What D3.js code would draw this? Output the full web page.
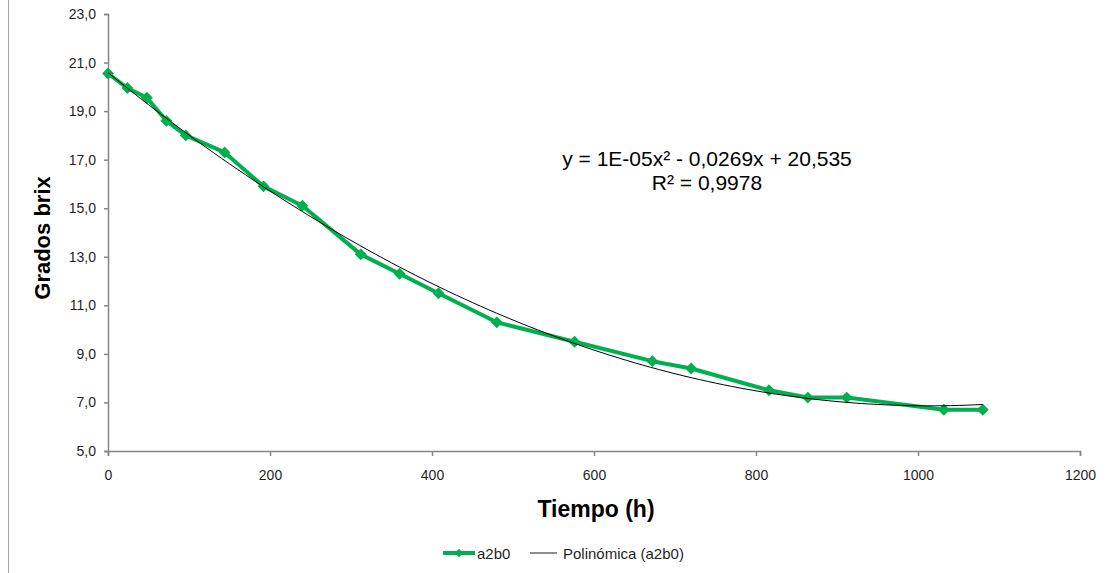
<!DOCTYPE html>
<html>
<head>
<meta charset="utf-8">
<script src="https://cdn.jsdelivr.net/npm/d3@7"></script>
<style>
  html, body { margin: 0; padding: 0; background: #fff; }
  svg { display: block; font-family: "Liberation Sans", Arial, sans-serif; }
</style>
</head>
<body>
<svg id="chart" width="1117" height="573"></svg>
<script>
// Grados brix measured over time (hours)
const tiempo = [0, 24, 48, 72, 96, 144, 192, 240, 312, 360, 408, 480, 576, 672, 720, 816, 864, 912, 1032, 1080];
const brix   = [20.55, 19.95, 19.55, 18.6, 18.0, 17.3, 15.9, 15.1, 13.1, 12.3, 11.5, 10.3, 9.5, 8.7, 8.4, 7.5, 7.2, 7.2, 6.7, 6.7];

const xTicks = [0, 200, 400, 600, 800, 1000, 1200];
const yTicks = [5, 7, 9, 11, 13, 15, 17, 19, 21, 23];

const seriesName = "a2b0";
const trendName = "Polinómica (a2b0)";
const equationLines = ["y = 1E-05x\u00B2 - 0,0269x + 20,535", "R\u00B2 = 0,9978"];

const svg = d3.select("#chart");
const plotLeft = 108, plotRight = 1080, plotTop = 14, plotBottom = 451;

const x = d3.scaleLinear().domain([0, 1200]).range([plotLeft, plotRight]);
const y = d3.scaleLinear().domain([5, 23]).range([plotBottom, plotTop]);

const green = "#00b050";
const axisColor = "#868686";
const textColor = "#1f1f1f";

// outer frame edge on the left
svg.append("line").attr("x1", 8.5).attr("x2", 8.5).attr("y1", 0).attr("y2", 573)
  .attr("stroke", "#a6a6a6").attr("stroke-width", 1);

// Axes
const fmt = d => d.toFixed(1).replace(".", ",");
const yAxis = svg.append("g").attr("transform", `translate(${plotLeft},0)`)
  .call(d3.axisLeft(y).tickValues(yTicks).tickFormat(fmt).tickSize(4).tickPadding(8));
const xAxis = svg.append("g").attr("transform", `translate(0,${plotBottom})`)
  .call(d3.axisBottom(x).tickValues(xTicks).tickFormat(d3.format("d")).tickSize(5).tickPadding(14));
[xAxis, yAxis].forEach(g => {
  g.select(".domain").attr("stroke", axisColor).attr("stroke-width", 1.5);
  g.selectAll(".tick line").attr("stroke", axisColor).attr("stroke-width", 1.5);
  g.selectAll(".tick text").attr("fill", textColor).style("font-size", "14px")
    .style("font-family", '"Liberation Sans", Arial, sans-serif');
});

// Quadratic least-squares trend of the series
function quadFit(xs, ys) {
  const n = xs.length;
  const s = [0, 0, 0, 0, 0], t = [0, 0, 0];
  for (let i = 0; i < n; i++) {
    const xi = xs[i], yi = ys[i];
    let p = 1;
    for (let k = 0; k < 5; k++) { s[k] += p; if (k < 3) t[k] += p * yi; p *= xi; }
  }
  const M = [[s[0], s[1], s[2], t[0]], [s[1], s[2], s[3], t[1]], [s[2], s[3], s[4], t[2]]];
  for (let i = 0; i < 3; i++) {
    for (let j = i + 1; j < 3; j++) {
      const f = M[j][i] / M[i][i];
      for (let k = i; k < 4; k++) M[j][k] -= f * M[i][k];
    }
  }
  const c = [0, 0, 0];
  for (let i = 2; i >= 0; i--) {
    let v = M[i][3];
    for (let k = i + 1; k < 3; k++) v -= M[i][k] * c[k];
    c[i] = v / M[i][i];
  }
  return c; // c0 + c1 x + c2 x^2
}
const coef = quadFit(tiempo, brix);
const trendX = d3.range(0, 1080 + 1, 10);
const trendPts = trendX.map(t => [t, coef[0] + coef[1] * t + coef[2] * t * t]);

// Series line
const pts = tiempo.map((t, i) => [t, brix[i]]);
svg.append("path").datum(pts)
  .attr("fill", "none").attr("stroke", green).attr("stroke-width", 4)
  .attr("stroke-linejoin", "round")
  .attr("d", d3.line().x(d => x(d[0])).y(d => y(d[1])));

// Diamond markers
const diamond = d3.symbol().type(d3.symbolDiamond2).size(90);
svg.append("g").selectAll("path").data(pts).join("path")
  .attr("transform", d => `translate(${x(d[0])},${y(d[1])})`)
  .attr("d", diamond).attr("fill", green);

// Trend line
svg.append("path").datum(trendPts)
  .attr("fill", "none").attr("stroke", "#000").attr("stroke-width", 1)
  .attr("d", d3.line().x(d => x(d[0])).y(d => y(d[1])));

// Equation
const eq = svg.append("text").attr("x", 707).attr("y", 166).attr("text-anchor", "middle")
  .attr("fill", "#000").style("font-size", "21px");
equationLines.forEach((l, i) => eq.append("tspan").attr("x", 707).attr("dy", i ? 24 : 0).text(l));

// Axis titles
svg.append("text").attr("x", 596).attr("y", 517).attr("text-anchor", "middle")
  .style("font-size", "23px").style("font-weight", "bold").attr("fill", "#000").text("Tiempo (h)");
svg.append("text").attr("transform", "translate(50,238) rotate(-90)").attr("text-anchor", "middle")
  .style("font-size", "22px").style("font-weight", "bold").attr("fill", "#000").text("Grados brix");

// Legend
const lg = svg.append("g").attr("transform", "translate(0,553)");
lg.append("line").attr("x1", 443).attr("x2", 475).attr("y1", 0).attr("y2", 0)
  .attr("stroke", green).attr("stroke-width", 4);
lg.append("path").attr("transform", "translate(459,0)").attr("d", d3.symbol().type(d3.symbolDiamond2).size(45)).attr("fill", green);
lg.append("text").attr("x", 477).attr("y", 5.5).style("font-size", "15px").attr("fill", textColor).text(seriesName);
lg.append("line").attr("x1", 530).attr("x2", 557).attr("y1", 0).attr("y2", 0)
  .attr("stroke", "#404040").attr("stroke-width", 1.2);
lg.append("text").attr("x", 563).attr("y", 5.5).style("font-size", "15px").attr("fill", textColor).text(trendName);
</script>
</body>
</html>
